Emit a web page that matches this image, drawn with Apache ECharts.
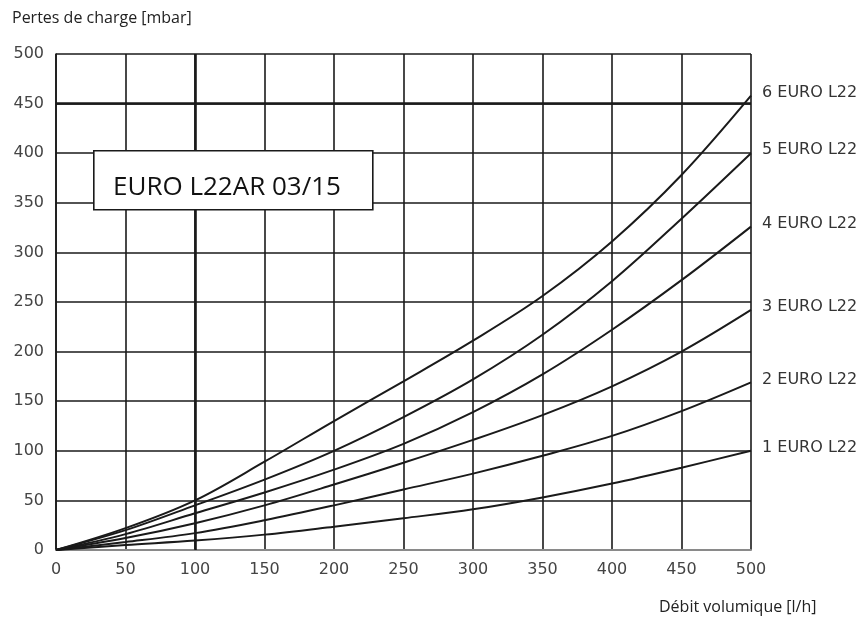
<!DOCTYPE html>
<html>
<head>
<meta charset="utf-8">
<script src="https://cdn.jsdelivr.net/npm/echarts@6/dist/echarts.min.js"></script>
<style>
html,body{margin:0;padding:0;background:#fff;}
#chart{width:866px;height:623px;}
</style>
</head>
<body>
<div id="chart"></div>
<script>
var flowValues = [0, 50, 100, 150, 200, 250, 300, 350, 400, 450, 500];
var seriesNames = ['1 EURO L22', '2 EURO L22', '3 EURO L22', '4 EURO L22', '5 EURO L22', '6 EURO L22'];
var euro1 = [0, 5, 9.5, 15.5, 23.5, 32, 41, 53, 67, 83, 100];
var euro2 = [0, 8, 17, 30, 45, 61, 77, 95, 115, 140, 169];
var euro3 = [0, 12, 27, 45, 66, 88, 111, 136, 165, 200, 242];
var euro4 = [0, 16, 37, 58, 81, 107, 139, 177, 222, 272, 326];
var euro5 = [0, 20, 45, 71, 100, 134, 172, 217, 271, 334, 400];
var euro6 = [0, 22, 50, 89, 130, 170, 211, 256, 311, 378, 458];
var seriesValues = [euro1, euro2, euro3, euro4, euro5, euro6];
var boldGridX = [100];
var boldGridY = [450];
var yTitle = 'Pertes de charge [mbar]';
var xTitle = 'Débit volumique [l/h]';
var boxLabel = 'EURO L22AR 03/15';

var chart = echarts.init(document.getElementById('chart'), null, {renderer: 'canvas'});

var series = seriesValues.map(function (vals, i) {
  var s = {
    name: seriesNames[i],
    type: 'line',
    smooth: 0.35,
    symbol: 'none',
    silent: true,
    data: flowValues.map(function (x, j) { return [x, vals[j]]; }),
    lineStyle: {color: '#1a1a1a', width: 2},
    z: 5,
    endLabel: {
      show: true,
      formatter: '{a}',
      color: '#333',
      fontFamily: 'DejaVu Sans',
      fontSize: 16,
      distance: 11,
      offset: [0, -3]
    }
  };
  if (i === 0) {
    s.markLine = {
      silent: true,
      symbol: 'none',
      label: {show: false},
      lineStyle: {color: '#1a1a1a', width: 2.6, type: 'solid'},
      data: boldGridX.map(function (v) { return {xAxis: v}; })
        .concat(boldGridY.map(function (v) { return {yAxis: v}; }))
    };
  }
  return s;
});

chart.setOption({
  animation: false,
  backgroundColor: '#fff',
  grid: {left: 56, right: 115, top: 54, bottom: 73, containLabel: false},
  title: [
    {text: yTitle, left: 7, top: 5, textStyle: {fontFamily: 'Open Sans', fontSize: 16, fontWeight: 'normal', color: '#222'}},
    {text: xTitle, left: 654, top: 594, textStyle: {fontFamily: 'Open Sans', fontSize: 16, fontWeight: 'normal', color: '#222'}}
  ],
  xAxis: {
    type: 'value', min: 0, max: 500, interval: 50,
    axisLine: {show: true, lineStyle: {color: '#8a8a8a', width: 2}},
    axisTick: {show: false},
    axisLabel: {color: '#444', fontFamily: 'DejaVu Sans', fontSize: 16, margin: 12},
    splitLine: {show: true, lineStyle: {color: '#1a1a1a', width: 1.6}}
  },
  yAxis: {
    type: 'value', min: 0, max: 500, interval: 50,
    axisLine: {show: true, lineStyle: {color: '#1a1a1a', width: 1.6}},
    axisTick: {show: false},
    axisLabel: {color: '#444', fontFamily: 'DejaVu Sans', fontSize: 16, margin: 12},
    splitLine: {show: true, lineStyle: {color: '#1a1a1a', width: 1.6}}
  },
  graphic: [
    {type: 'rect', left: 93, top: 150, z: 100, zlevel: 1, shape: {x: 0, y: 0, width: 279, height: 59}, style: {fill: '#fff', stroke: '#1a1a1a', lineWidth: 1.6}},
    {type: 'text', left: 113, top: 175, z: 101, zlevel: 1, style: {text: boxLabel, fill: '#111', font: '26px "Open Sans"'}}
  ],
  series: series
});
</script>
</body>
</html>
